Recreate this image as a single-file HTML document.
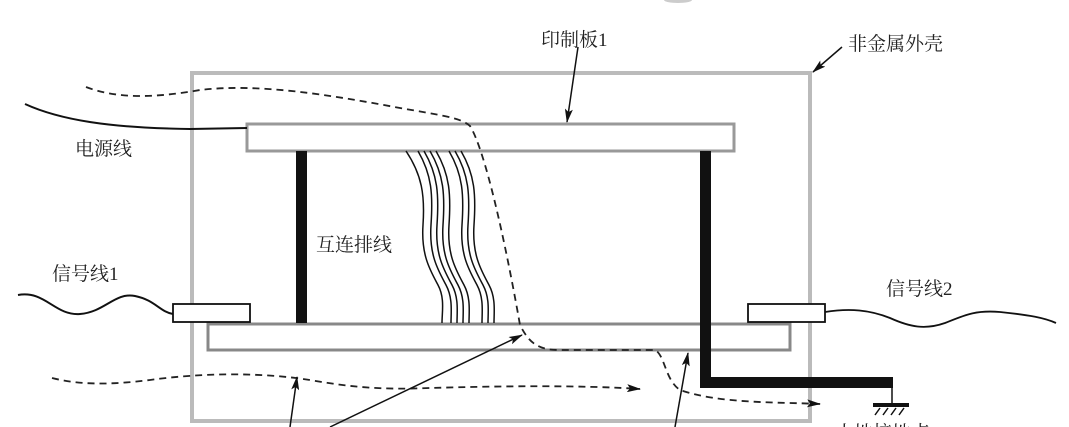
<!DOCTYPE html>
<html><head><meta charset="utf-8"><style>
body{margin:0;background:#fff;}
svg{display:block}
text{font-family:"Liberation Serif","Noto Serif CJK SC","Noto Sans CJK SC",serif;fill:#222;}
</style></head><body>
<svg width="1069" height="427" viewBox="0 0 1069 427" xmlns="http://www.w3.org/2000/svg">
<defs>
<marker id="ah" markerWidth="14" markerHeight="8" refX="13" refY="4" orient="auto" markerUnits="userSpaceOnUse">
<path d="M0,0 L14,4 L0,8 L3,4 Z" fill="#111"/></marker>
</defs>
<ellipse cx="678" cy="0" rx="14" ry="3" fill="#ccc"/>
<rect x="192" y="73" width="618" height="348" fill="none" stroke="#bbb" stroke-width="4"/>
<rect x="247" y="124" width="487" height="27" fill="#fff" stroke="#999" stroke-width="3"/>
<rect x="208" y="324" width="582" height="26" fill="#fff" stroke="#888" stroke-width="3"/>
<rect x="296" y="151" width="11" height="172" fill="#111"/>
<path d="M700,151 H711 V377 H893 V388 H700 Z" fill="#111"/>
<line x1="892" y1="388" x2="892" y2="404" stroke="#111" stroke-width="1.5"/>
<rect x="873" y="403" width="36" height="4" fill="#111"/>
<path d="M880,408 l-5,7 M888,408 l-5,7 M896,408 l-5,7 M904,408 l-5,7" stroke="#111" stroke-width="1.5"/>
<rect x="173" y="304" width="77" height="18" fill="#fff" stroke="#111" stroke-width="1.8"/>
<rect x="748" y="304" width="77" height="18" fill="#fff" stroke="#111" stroke-width="1.8"/>
<path d="M25,104 C60,120 110,128 190,129 L247,128" fill="none" stroke="#111" stroke-width="2"/>
<path d="M18,295 C45,290 55,316 80,314 C105,312 115,292 135,296 C155,300 160,312 173,314" fill="none" stroke="#111" stroke-width="2"/>
<path d="M825,312 C850,308 870,310 890,318 C910,327 925,330 945,323 C965,315 975,310 1000,312 C1030,315 1045,318 1056,323" fill="none" stroke="#111" stroke-width="1.8"/>
<g fill="none" stroke="#111" stroke-width="1.5">
<path d="M406,151 C422,175 425,195 423,225 C421,255 430,270 438,285 C445,298 442,312 442,323"/>
<path d="M418,151 C432,175 433,195 431,225 C429,255 438,270 446,285 C453,298 451,312 451,323"/>
<path d="M424,151 C438,175 439,195 437,225 C435,255 444,270 452,285 C459,298 457,312 457,323"/>
<path d="M430,151 C444,175 445,195 443,225 C441,255 450,270 458,285 C465,298 463,312 463,323"/>
<path d="M436,151 C450,175 451,195 449,225 C447,255 456,270 464,285 C471,298 469,312 469,323"/>
<path d="M449,151 C463,175 464,195 462,225 C460,255 469,270 477,285 C484,298 482,312 482,323"/>
<path d="M455,151 C469,175 470,195 468,225 C466,255 475,270 483,285 C490,298 488,312 488,323"/>
<path d="M461,151 C475,175 476,195 474,225 C472,255 481,270 489,285 C496,298 494,312 494,323"/>
</g>
<g fill="none" stroke="#222" stroke-width="1.8" stroke-dasharray="7,5">
<path d="M86,87 C120,100 160,97 200,90 C260,83 330,95 400,108 C440,115 462,118 470,126 C485,150 505,240 520,325 C530,345 540,350 560,350 L655,350 C665,355 665,380 680,390 C720,404 780,402 820,404" marker-end="url(#ah)"/>
<path d="M52,378 C80,385 110,385 150,380 C200,373 260,372 310,380 C350,387 380,390 430,388 C500,386 580,385 640,389" marker-end="url(#ah)"/>
</g>
<g stroke="#111" stroke-width="1.5" fill="none">
<line x1="578" y1="47" x2="567" y2="122" marker-end="url(#ah)"/>
<line x1="842" y1="47" x2="813" y2="72" marker-end="url(#ah)"/>
<line x1="290" y1="427" x2="297" y2="377" marker-end="url(#ah)"/>
<line x1="330" y1="427" x2="522" y2="335" marker-end="url(#ah)"/>
<line x1="675" y1="427" x2="688" y2="353" marker-end="url(#ah)"/>
</g>
<text x="541" y="46" font-size="19">印制板1</text>
<text x="848" y="50" font-size="19">非金属外壳</text>
<text x="75" y="155" font-size="19">电源线</text>
<text x="316" y="251" font-size="19">互连排线</text>
<text x="52" y="280" font-size="19">信号线1</text>
<text x="886" y="295" font-size="19">信号线2</text>
<text x="835" y="439" font-size="19">大地接地点</text>
</svg>
</body></html>
